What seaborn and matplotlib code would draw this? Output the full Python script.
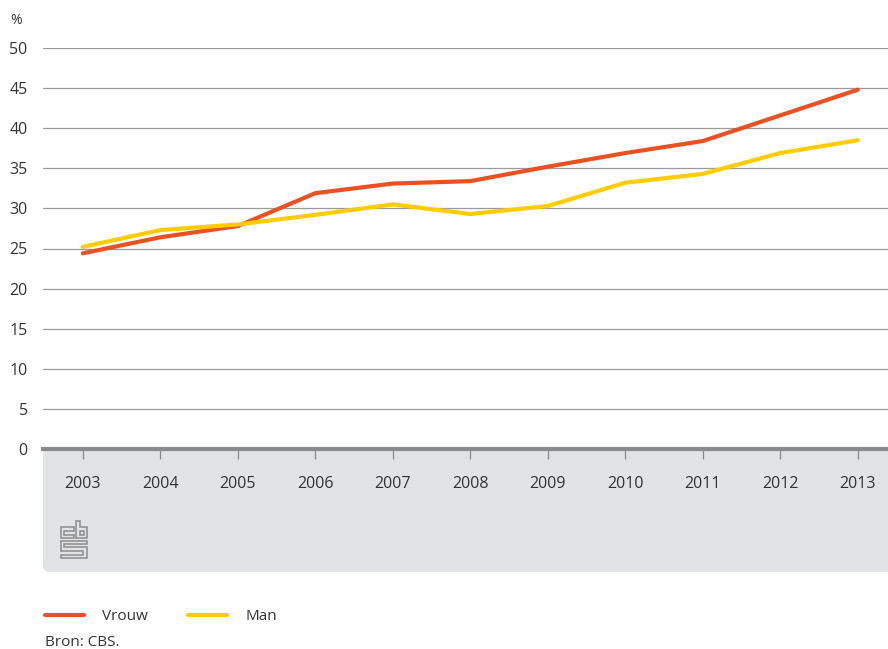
import matplotlib
matplotlib.use("Agg")
import matplotlib.pyplot as plt
import seaborn as sns
import pandas as pd
from matplotlib.patches import FancyBboxPatch, Polygon
from matplotlib.lines import Line2D

years = [2003, 2004, 2005, 2006, 2007, 2008, 2009, 2010, 2011, 2012, 2013]
vrouw = [24.4, 26.4, 27.8, 31.9, 33.1, 33.4, 35.2, 36.9, 38.4, 41.6, 44.8]
man = [25.2, 27.3, 28.0, 29.2, 30.5, 29.3, 30.3, 33.2, 34.3, 36.9, 38.5]
series_names = ["Vrouw", "Man"]
yticks = [0, 5, 10, 15, 20, 25, 30, 35, 40, 45, 50]
source = "Bron: CBS."

df = pd.DataFrame({
    "jaar": years * 2,
    "waarde": vrouw + man,
    "serie": [series_names[0]] * len(years) + [series_names[1]] * len(years),
})

sns.set_theme(style="white")
plt.rcParams["font.family"] = ["Open Sans", "DejaVu Sans"]
TXT = "#333333"
RED = "#EA5120"
YEL = "#FFCC00"

W, H = 888, 649
fig = plt.figure(figsize=(W / 100, H / 100), dpi=100)

def fx(px):
    return px / W

def fy(py):
    return 1 - py / H

ax = fig.add_axes([fx(43), fy(449), fx(888) - fx(43), fy(48) - fy(449)])
ax.set_facecolor("none")

# grey bottom panel
panel = FancyBboxPatch((fx(43), fy(572)), fx(900) - fx(43), fy(449) - fy(572),
                       boxstyle="round,pad=0,rounding_size=0.008",
                       transform=fig.transFigure, facecolor="#E2E3E5",
                       edgecolor="none", zorder=-5)
fig.patches.append(panel)

sns.lineplot(data=df, x="jaar", y="waarde", hue="serie",
             palette={series_names[0]: RED, series_names[1]: YEL},
             linewidth=3.0, ax=ax, legend=False, zorder=3)

ax.set_xlim(2002.485, 2013.39)
ax.set_ylim(0, 50)
ax.set_yticks(yticks)
ax.set_xticks(years)
ax.set_xticklabels([str(y) for y in years])
ax.set_xlabel("")
ax.set_ylabel("")
ax.grid(axis="y", color="#9A9A9A", linewidth=0.9)
ax.grid(axis="x", visible=False)
for s in ["top", "right", "left"]:
    ax.spines[s].set_visible(False)
ax.spines["bottom"].set_color("#8A8A8A")
ax.spines["bottom"].set_linewidth(3.0)
ax.spines["bottom"].set_zorder(4)
ax.tick_params(axis="y", length=0, pad=11, labelsize=11.5, labelcolor=TXT)
ax.tick_params(axis="x", direction="out", length=7.5, width=0.9, color="#8A8A8A",
               pad=12, labelsize=11.5, labelcolor=TXT, bottom=True)
for lab in ax.get_yticklabels():
    lab.set_horizontalalignment("right")

fig.text(fx(10), fy(21), "%", fontsize=10, color=TXT, va="center", ha="left")

# CBS logo (outline glyph)
LX, LY, LW_, LH_ = 60.5, 521, 26.5, 37
lc = "#8C8C8C"

def shape(pts, closed=True):
    xy = [(fx(LX + u * LW_), fy(LY + v * LH_)) for u, v in pts]
    fig.patches.append(Polygon(xy, closed=closed, fill=False, edgecolor=lc,
                               linewidth=1.1, transform=fig.transFigure,
                               zorder=-1, joinstyle="miter"))

# c
shape([(0.52, 0.17), (0, 0.17), (0, 0.47), (0.52, 0.47), (0.52, 0.38),
       (0.14, 0.38), (0.14, 0.26), (0.52, 0.26)])
# b
shape([(0.6, 0), (0.6, 0.47), (1, 0.47), (1, 0.17), (0.73, 0.17), (0.73, 0)])
shape([(0.73, 0.26), (0.87, 0.26), (0.87, 0.38), (0.73, 0.38)])
# s
shape([(1, 0.53), (0, 0.53), (0, 0.80), (0.86, 0.80), (0.86, 0.91), (0, 0.91),
       (0, 1), (1, 1), (1, 0.71), (0.14, 0.71), (0.14, 0.62), (1, 0.62)])

# legend
handles = [Line2D([0], [0], color=RED, linewidth=3.0),
           Line2D([0], [0], color=YEL, linewidth=3.0)]
fig.legend(handles, series_names, loc="upper left",
           bbox_to_anchor=(fx(45), fy(609)), ncol=2, frameon=False,
           handlelength=2.55, handletextpad=1.2, columnspacing=2.6,
           borderpad=0, borderaxespad=0, fontsize=11, labelcolor=TXT)
fig.text(fx(45), fy(642), source, fontsize=11, color=TXT, va="center", ha="left")

fig.savefig("out.png", dpi=100, facecolor="white")
